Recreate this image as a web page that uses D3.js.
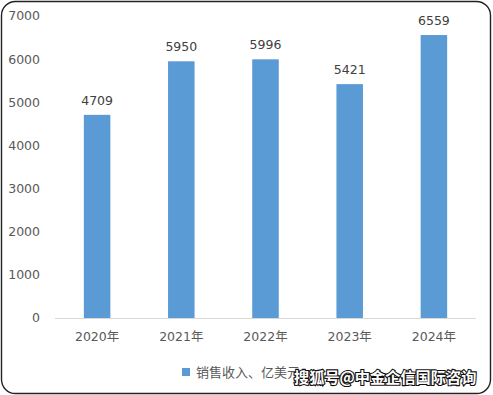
<!DOCTYPE html>
<html>
<head>
<meta charset="utf-8">
<script src="https://cdn.jsdelivr.net/npm/d3@7"></script>
<style>
    html, body { margin: 0; padding: 0; background: #fff; }
    svg { display: block; }
</style>
</head>
<body>
<svg id="chart" width="493" height="395"></svg>
<script>
// Chart data
const years = ["2020年", "2021年", "2022年", "2023年", "2024年"];
const sales = [4709, 5950, 5996, 5421, 6559];
const yTicks = [0, 1000, 2000, 3000, 4000, 5000, 6000, 7000];
const seriesName = "销售收入、亿美元";
const watermark = "搜狐号@中金企信国际咨询";

const svg = d3.select("#chart");
const W = 493, H = 395;
const font = "'DejaVu Sans', Verdana, 'Noto Sans CJK SC', sans-serif";
const textColor = "#595959";
const barColor = "#5b9bd5";

// Frame
svg.append("rect")
    .attr("x", 1.5).attr("y", 1.5)
    .attr("width", W - 4).attr("height", H - 3)
    .attr("rx", 14).attr("ry", 14)
    .attr("fill", "#fff")
    .attr("stroke", "#222")
    .attr("stroke-width", 1.4);

// Scales
const x = d3.scaleBand()
    .domain(years)
    .range([55, 476])
    .paddingInner(0.685)
    .paddingOuter(0.3425);

const y = d3.scaleLinear()
    .domain([0, 7000])
    .range([318, 16]);

// Y axis labels
svg.append("g")
    .selectAll("text")
    .data(yTicks)
    .join("text")
    .attr("x", 40)
    .attr("y", d => y(d))
    .attr("dy", "0.35em")
    .attr("text-anchor", "end")
    .attr("font-family", font)
    .attr("font-size", 12.5)
    .attr("fill", textColor)
    .text(d => d);

// Bars
svg.append("g")
    .selectAll("rect")
    .data(sales)
    .join("rect")
    .attr("x", (d, i) => x(years[i]))
    .attr("y", d => y(d))
    .attr("width", x.bandwidth())
    .attr("height", d => y(0) - y(d))
    .attr("fill", barColor);

// Baseline
svg.append("line")
    .attr("x1", 55).attr("x2", 476)
    .attr("y1", y(0) + 0.5).attr("y2", y(0) + 0.5)
    .attr("stroke", "#d9d9d9")
    .attr("stroke-width", 1);

// Value labels
svg.append("g")
    .selectAll("text")
    .data(sales)
    .join("text")
    .attr("x", (d, i) => x(years[i]) + x.bandwidth() / 2)
    .attr("y", d => y(d) - 10)
    .attr("text-anchor", "middle")
    .attr("font-family", font)
    .attr("font-size", 12.5)
    .attr("fill", "#404040")
    .text(d => d);

// X axis labels
svg.append("g")
    .selectAll("text")
    .data(years)
    .join("text")
    .attr("x", d => x(d) + x.bandwidth() / 2)
    .attr("y", 337)
    .attr("dy", "0.35em")
    .attr("text-anchor", "middle")
    .attr("font-family", font)
    .attr("font-size", 12.5)
    .attr("fill", textColor)
    .text(d => d);

// Legend
const legend = svg.append("g").attr("transform", "translate(182,372)");
legend.append("rect")
    .attr("x", 0).attr("y", -4)
    .attr("width", 8).attr("height", 8)
    .attr("fill", barColor);
legend.append("text")
    .attr("x", 14)
    .attr("y", 0)
    .attr("dy", "0.35em")
    .attr("font-family", font)
    .attr("font-size", 13)
    .attr("fill", textColor)
    .text(seriesName);

// Watermark
svg.append("text")
    .attr("x", 294)
    .attr("y", 378)
    .attr("dy", "0.35em")
    .attr("font-family", "'Noto Sans CJK SC', sans-serif")
    .attr("font-size", 15.2)
    .attr("font-weight", "bold")
    .attr("fill", "#fff")
    .attr("stroke", "#111")
    .attr("stroke-width", 2.2)
    .attr("paint-order", "stroke")
    .text(watermark);
</script>
</body>
</html>
